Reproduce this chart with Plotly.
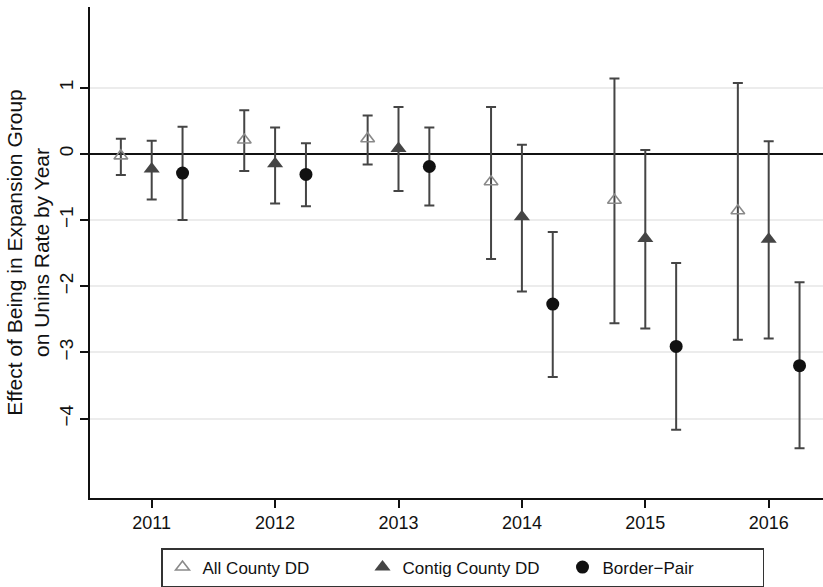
import plotly.graph_objects as go

# Event-study style estimates by year for three specifications
years = [2011, 2012, 2013, 2014, 2015, 2016]

all_est = [-0.03, 0.21, 0.23, -0.42, -0.70, -0.86]
all_lo = [-0.32, -0.26, -0.16, -1.59, -2.56, -2.81]
all_hi = [0.23, 0.66, 0.58, 0.71, 1.14, 1.07]

contig_est = [-0.23, -0.15, 0.08, -0.95, -1.28, -1.29]
contig_lo = [-0.69, -0.75, -0.56, -2.08, -2.64, -2.79]
contig_hi = [0.20, 0.40, 0.71, 0.14, 0.06, 0.19]

border_est = [-0.29, -0.31, -0.19, -2.27, -2.91, -3.20]
border_lo = [-1.00, -0.79, -0.78, -3.37, -4.17, -4.45]
border_hi = [0.41, 0.16, 0.40, -1.18, -1.65, -1.94]

y_ticks = [-4, -3, -2, -1, 0, 1]

FONT = "Liberation Sans, Arial, sans-serif"
BAR = "#454545"


def series(name, est, lo, hi, shift, symbol, color, size, line_color, line_w):
    return go.Scatter(
        x=[y + shift for y in years],
        y=est,
        mode="markers",
        name=name,
        marker=dict(symbol=symbol, size=size, color=color,
                    line=dict(color=line_color, width=line_w)),
        error_y=dict(type="data", symmetric=False,
                     array=[h - e for h, e in zip(hi, est)],
                     arrayminus=[e - l for e, l in zip(est, lo)],
                     color=BAR, thickness=2, width=5),
    )


fig = go.Figure()
fig.add_trace(series("All County DD", all_est, all_lo, all_hi, -0.25,
                     "triangle-up-open", "#8a8a8a", 12, "#8a8a8a", 1.6))
fig.add_trace(series("Contig County DD", contig_est, contig_lo, contig_hi, 0.0,
                     "triangle-up", "#454545", 14, "#454545", 0))
fig.add_trace(series("Border\u2212Pair", border_est, border_lo, border_hi, 0.25,
                     "circle", "#111111", 13, "#111111", 0))

fig.update_layout(
    width=823, height=587,
    margin=dict(l=90, r=0, t=7, b=89, autoexpand=False),
    paper_bgcolor="white", plot_bgcolor="white",
    font=dict(family=FONT, size=18, color="#111111"),
    showlegend=True,
    legend=dict(orientation="h", x=(161 - 90) / 733, xanchor="left",
                y=-(548 - 498) / 491, yanchor="top",
                bordercolor="#333333", borderwidth=1.5, bgcolor="white",
                font=dict(family=FONT, size=17, color="#111111"),
                itemwidth=30, entrywidth=155),
)

fig.update_xaxes(
    range=[2010.5, 2016.44], tickvals=years, ticktext=[str(y) for y in years],
    showgrid=False, zeroline=False, showline=True, linecolor="#111111",
    linewidth=1.5, ticks="outside", ticklen=8, tickwidth=1.5,
    tickcolor="#111111", tickfont=dict(size=18),
)
fig.update_yaxes(
    range=[-5.2, 2.22], tickvals=y_ticks, tickangle=-90,
    showgrid=True, gridcolor="#ececec", gridwidth=1.5,
    zeroline=True, zerolinecolor="#111111", zerolinewidth=2,
    showline=True, linecolor="#111111", linewidth=1.5,
    ticks="outside", ticklen=8, tickwidth=1.5, tickcolor="#111111",
    tickfont=dict(size=19),
    title=dict(text="Effect of Being in Expansion Group<br>on Unins Rate by Year",
               font=dict(family=FONT, size=21), standoff=0),
)

fig.write_html("out.html")
